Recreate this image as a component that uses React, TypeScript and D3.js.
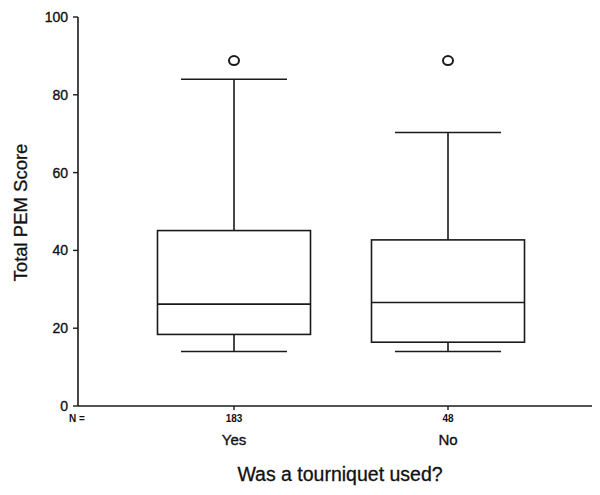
import React, { useEffect, useRef } from "react";
import * as d3 from "d3";

const groups = ["Yes", "No"];
const counts = [183, 48];
const whiskerLow = [14, 14];
const q1 = [18.4, 16.4];
const medians = [26.2, 26.6];
const q3 = [45.1, 42.7];
const whiskerHigh = [84, 70.3];
const outliers = [88.8, 88.8];
const yTicks = [0, 20, 40, 60, 80, 100];

const W = 600;
const H = 495;
const font = "Arial, 'Liberation Sans', Helvetica, sans-serif";

const BoxChart = () => {
  const svgRef = useRef<SVGSVGElement | null>(null);

  useEffect(() => {
    const svg = d3.select(svgRef.current);
    svg.selectAll("*").remove();

    const left = 78;
    const bottom = 406;
    const y = d3.scaleLinear().domain([0, 100]).range([bottom, 17]);
    const x = d3.scalePoint<string>().domain(groups).range([234, 448]);
    const boxW = 153;
    const capW = 106;
    const ink = "#1a1a1a";

    const g = svg.append("g");

    // axes
    g.append("line")
      .attr("x1", left).attr("x2", left)
      .attr("y1", y(100)).attr("y2", bottom)
      .attr("stroke", ink).attr("stroke-width", 1.6);
    g.append("line")
      .attr("x1", left).attr("x2", W)
      .attr("y1", bottom).attr("y2", bottom)
      .attr("stroke", ink).attr("stroke-width", 1.6);

    yTicks.forEach((t) => {
      g.append("line")
        .attr("x1", left - 5).attr("x2", left)
        .attr("y1", y(t)).attr("y2", y(t))
        .attr("stroke", ink).attr("stroke-width", 1.4);
      g.append("text")
        .attr("x", left - 10).attr("y", y(t) + 5)
        .attr("text-anchor", "end")
        .style("font-family", font).style("font-size", "14px")
        .style("stroke", "#111").style("stroke-width", 0.35)
        .style("fill", "#111")
        .text(t);
    });

    g.append("text")
      .attr("x", 69).attr("y", 422)
      .style("font-family", font).style("font-size", "10px").style("font-weight", "bold")
      .style("fill", "#111")
      .text("N =");

    groups.forEach((grp, i) => {
      const cx = x(grp) as number;
      // x tick
      g.append("line")
        .attr("x1", cx).attr("x2", cx)
        .attr("y1", bottom).attr("y2", bottom + 4)
        .attr("stroke", ink).attr("stroke-width", 1.4);
      g.append("text")
        .attr("x", cx).attr("y", 422)
        .attr("text-anchor", "middle")
        .style("font-family", font).style("font-size", "10px").style("font-weight", "bold")
        .style("fill", "#111")
        .text(counts[i]);
      g.append("text")
        .attr("x", cx).attr("y", 445)
        .attr("text-anchor", "middle")
        .style("font-family", font).style("font-size", "15px")
        .style("stroke", "#111").style("stroke-width", 0.35)
        .style("fill", "#111")
        .text(grp);

      // whiskers
      g.append("line")
        .attr("x1", cx).attr("x2", cx)
        .attr("y1", y(whiskerHigh[i])).attr("y2", y(q3[i]))
        .attr("stroke", ink).attr("stroke-width", 1.6);
      g.append("line")
        .attr("x1", cx).attr("x2", cx)
        .attr("y1", y(q1[i])).attr("y2", y(whiskerLow[i]))
        .attr("stroke", ink).attr("stroke-width", 1.6);
      [whiskerHigh[i], whiskerLow[i]].forEach((v) => {
        g.append("line")
          .attr("x1", cx - capW / 2).attr("x2", cx + capW / 2)
          .attr("y1", y(v)).attr("y2", y(v))
          .attr("stroke", ink).attr("stroke-width", 1.6);
      });

      // box
      g.append("rect")
        .attr("x", cx - boxW / 2).attr("width", boxW)
        .attr("y", y(q3[i])).attr("height", y(q1[i]) - y(q3[i]))
        .attr("fill", "none")
        .attr("stroke", ink).attr("stroke-width", 1.6);
      g.append("line")
        .attr("x1", cx - boxW / 2).attr("x2", cx + boxW / 2)
        .attr("y1", y(medians[i])).attr("y2", y(medians[i]))
        .attr("stroke", ink).attr("stroke-width", 1.6);

      // outlier
      g.append("ellipse")
        .attr("cx", cx).attr("cy", y(outliers[i]))
        .attr("rx", 5).attr("ry", 4.5)
        .attr("fill", "none")
        .attr("stroke", ink).attr("stroke-width", 2);
    });

    svg.append("text")
      .attr("transform", `translate(27, ${y(50) + 1}) rotate(-90)`)
      .attr("text-anchor", "middle")
      .style("font-family", font).style("font-size", "18.5px")
      .style("stroke", "#111").style("stroke-width", 0.3)
      .style("fill", "#111")
      .text("Total PEM Score");

    svg.append("text")
      .attr("x", 340).attr("y", 481)
      .attr("text-anchor", "middle")
      .style("font-family", font).style("font-size", "19.5px")
      .style("stroke", "#111").style("stroke-width", 0.3)
      .style("fill", "#111")
      .text("Was a tourniquet used?");
  }, []);

  return <svg ref={svgRef} width={W} height={H} style={{ display: "block" }}></svg>;
};

export default function App() {
  return (
    <div style={{ margin: -8 }}>
      <BoxChart />
    </div>
  );
}
